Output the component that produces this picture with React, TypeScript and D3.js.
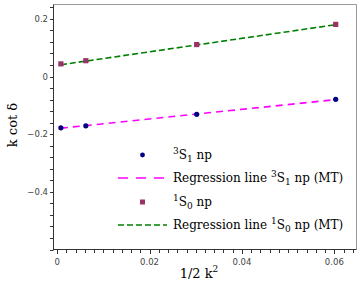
import React from 'react'
import * as d3 from 'd3'

// data
const xVals = [0.0008, 0.0062, 0.0302, 0.0603]
const tripletVals = [-0.178, -0.171, -0.131, -0.079]
const singletVals = [0.044, 0.055, 0.111, 0.181]
// regression line endpoints
const lineX = [0.0008, 0.0603]
const tripletLine = [-0.179, -0.08]
const singletLine = [0.041, 0.18]

const xTicks = [0, 0.02, 0.04, 0.06]
const xTickLabels = ['0', '0.02', '0.04', '0.06']
const yTicks = [0.2, 0, -0.2, -0.4]
const yTickLabels = ['0.2', '0', '−0.2', '−0.4']

const W = 362
const H = 296
const serif = 'DejaVu Serif, serif'
const sans = 'DejaVu Sans, sans-serif'

const App = () => {
    const x = d3.scaleLinear().domain([-0.0008, 0.0648]).range([53.5, 356.5])
    const y = d3.scaleLinear().domain([-0.6, 0.25]).range([249.5, 4.5])

    const lineGen = d3.line<[number, number]>()
        .x(d => x(d[0]))
        .y(d => y(d[1]))

    const xMinor = d3.range(0, 0.0645, 0.002)
    const yMinor = d3.range(-0.6, 0.2401, 0.04)

    const tripletPts = lineX.map((v, i) => [v, tripletLine[i]] as [number, number])
    const singletPts = lineX.map((v, i) => [v, singletLine[i]] as [number, number])

    // legend rows
    const lgX0 = 118
    const lgX1 = 167
    const lgText = 173
    const rows = [155, 178, 202, 225]

    const sub = (main: string, sup: string, idx: string, rest: string) => (
        <>
            <tspan fontSize={9} dy={-5}>{sup}</tspan>
            <tspan fontSize={12} dy={5}>{main}</tspan>
            <tspan fontSize={9} dy={3}>{idx}</tspan>
            <tspan fontSize={12} dy={-3}>{rest}</tspan>
        </>
    )

    return (
        <div style={{ position: 'absolute', left: 0, top: 0 }}>
            <svg width={W} height={H} style={{ display: 'block' }}>
                <rect width={W} height={H} fill="#fff" />
                {/* frame */}
                <line x1={53.5} x2={356.5} y1={4.5} y2={4.5} stroke="#999" />
                <line x1={356.5} x2={356.5} y1={4.5} y2={249.5} stroke="#999" />
                <line x1={53.5} x2={53.5} y1={4.5} y2={250} stroke="#333" />
                <line x1={53.5} x2={356.5} y1={249.5} y2={249.5} stroke="#333" />

                {/* x ticks */}
                {xMinor.map((t, i) => (
                    <line key={'xm' + i} x1={Math.round(x(t)) + 0.5} x2={Math.round(x(t)) + 0.5}
                        y1={250} y2={253} stroke="#333" />
                ))}
                {xTicks.map((t, i) => (
                    <g key={'xt' + i}>
                        <line x1={Math.round(x(t)) + 0.5} x2={Math.round(x(t)) + 0.5} y1={250} y2={254} stroke="#333" />
                        <text x={x(t)} y={265} fontSize={8.5} fontFamily={sans} fill="#444" textAnchor="middle">
                            {xTickLabels[i]}
                        </text>
                    </g>
                ))}

                {/* y ticks */}
                {yMinor.map((t, i) => (
                    <line key={'ym' + i} x1={50} x2={53.5} y1={Math.round(y(t)) + 0.5} y2={Math.round(y(t)) + 0.5} stroke="#333" />
                ))}
                {yTicks.map((t, i) => (
                    <text key={'yt' + i} x={48} y={y(t) + 3} fontSize={8.5} fontFamily={sans} fill="#444" textAnchor="end">
                        {yTickLabels[i]}
                    </text>
                ))}

                {/* axis titles */}
                <text x={199} y={278} fontSize={13} fontFamily={serif} fill="#000" textAnchor="middle">
                    1/2 k<tspan fontSize={9} dy={-6}>2</tspan>
                </text>
                <text transform={`translate(17,125) rotate(-90)`} fontSize={13} fontFamily={serif} fill="#000" textAnchor="middle">
                    k cot δ
                </text>

                {/* regression lines */}
                <path d={lineGen(tripletPts) || ''} fill="none" stroke="#ff00ff" strokeWidth={1.6} strokeDasharray="7,5" />
                <path d={lineGen(singletPts) || ''} fill="none" stroke="#008000" strokeWidth={1.6} strokeDasharray="6,3" />

                {/* points */}
                {xVals.map((v, i) => (
                    <circle key={'t' + i} cx={x(v)} cy={y(tripletVals[i])} r={2.6} fill="#000080" />
                ))}
                {xVals.map((v, i) => (
                    <rect key={'s' + i} x={x(v) - 2.6} y={y(singletVals[i]) - 2.6} width={5.2} height={5.2} fill="#993366" />
                ))}

                {/* legend */}
                <circle cx={142.5} cy={rows[0]} r={2.4} fill="#000080" />
                <text x={lgText} y={rows[0] + 4} fontFamily={serif} fill="#000">
                    {sub('S', '3', '1', ' np')}
                </text>
                <line x1={lgX0} x2={lgX1} y1={rows[1]} y2={rows[1]} stroke="#ff00ff" strokeWidth={1.6} strokeDasharray="10,8" />
                <text x={lgText} y={rows[1] + 4} fontFamily={serif} fill="#000">
                    <tspan fontSize={12}>Regression line </tspan>
                    {sub('S', '3', '1', ' np (MT)')}
                </text>
                <rect x={140} y={rows[2] - 2.5} width={5} height={5} fill="#993366" />
                <text x={lgText} y={rows[2] + 4} fontFamily={serif} fill="#000">
                    {sub('S', '1', '0', ' np')}
                </text>
                <line x1={lgX0} x2={lgX1} y1={rows[3]} y2={rows[3]} stroke="#008000" strokeWidth={1.6} strokeDasharray="6,3" />
                <text x={lgText} y={rows[3] + 4} fontFamily={serif} fill="#000">
                    <tspan fontSize={12}>Regression line </tspan>
                    {sub('S', '1', '0', ' np (MT)')}
                </text>
            </svg>
        </div>
    )
}

export default App
